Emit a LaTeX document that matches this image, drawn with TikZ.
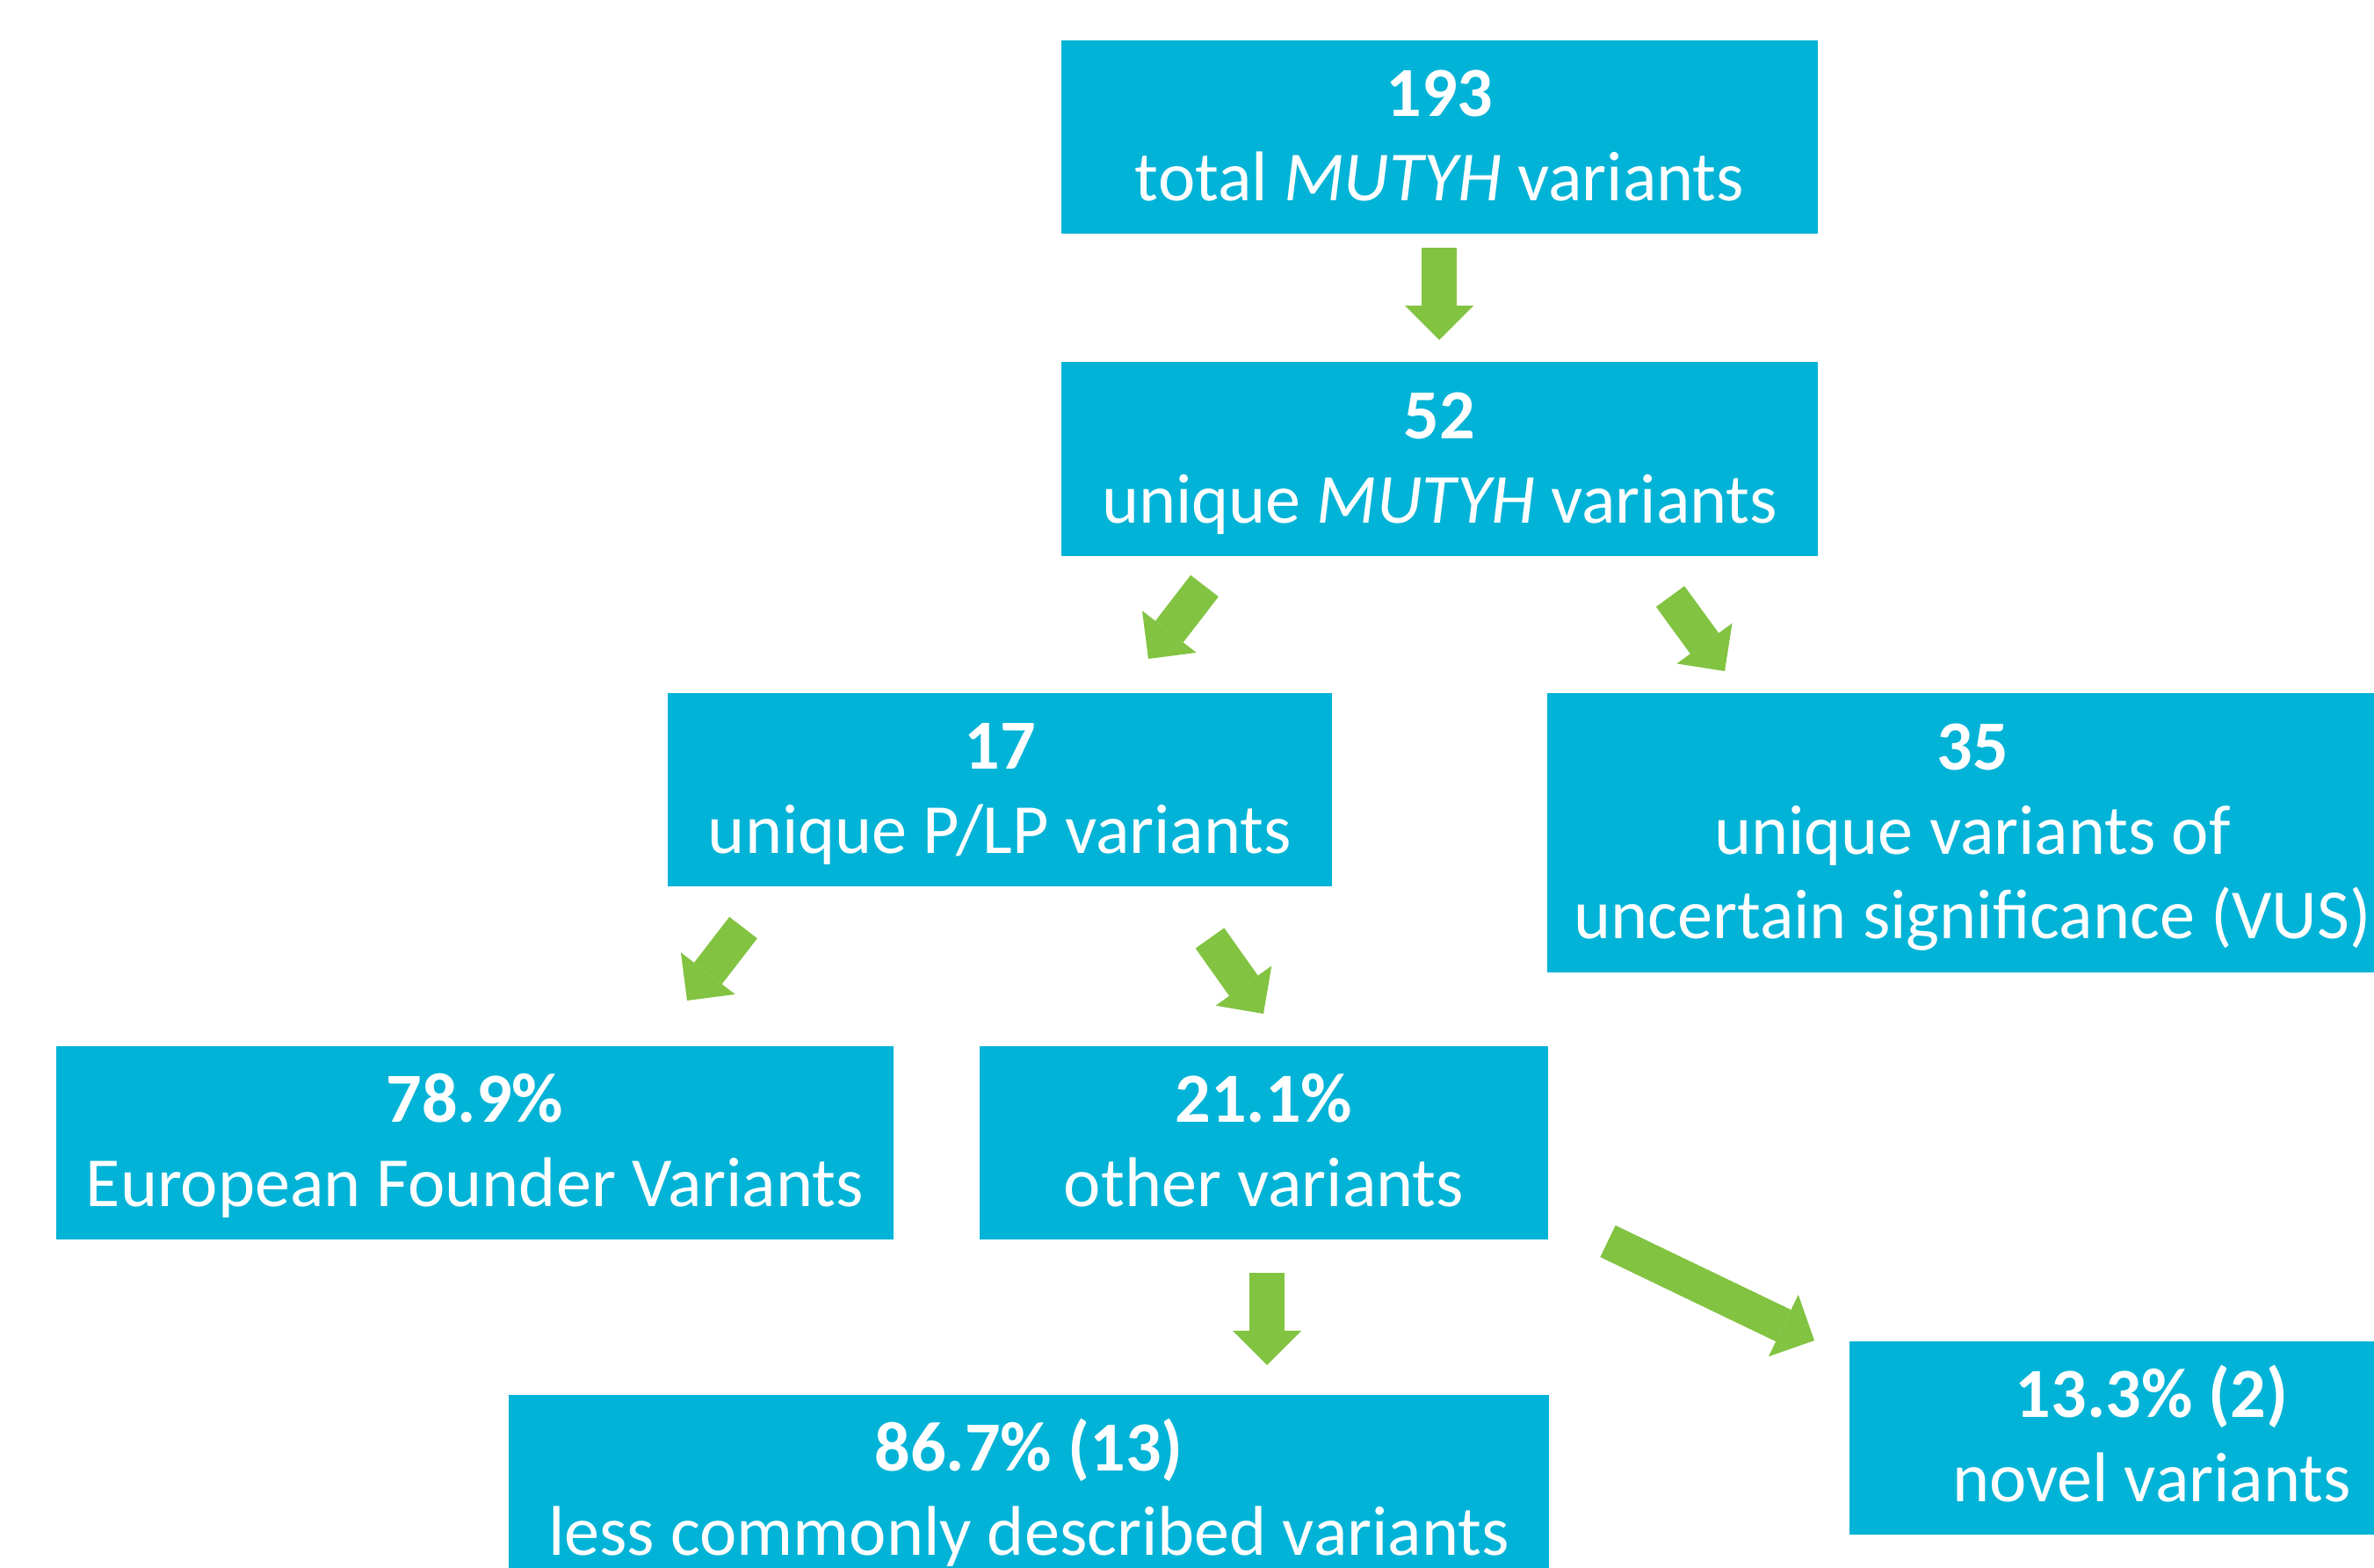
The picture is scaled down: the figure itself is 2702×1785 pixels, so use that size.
\documentclass[tikz,border=0pt]{standalone}
\usepackage{fontspec}
\setmainfont{Carlito}
\usetikzlibrary{arrows.meta}
\definecolor{boxblue}{HTML}{00B3D7}
\definecolor{arrowgreen}{HTML}{82C341}
\newcommand{\ls}{\rule[-0.24\baselineskip]{0pt}{\baselineskip}}
\tikzset{
	x=0.01cm, y=-0.01cm, % pixel-like units, y downwards
	box/.style={fill=boxblue, text=white, inner sep=0pt, align=center,
		minimum height=2.2cm, font=\fontsize{22.8}{27.3}\selectfont},
	flow/.style={draw=arrowgreen, line width=0.4cm,
		-{Triangle[width=0.78cm, length=0.39cm, line width=0pt]}},
}
\begin{document}
\begin{tikzpicture}
	\path[use as bounding box] (0,0) rectangle (2702,1785);
	\clip (0,0) rectangle (2702,1785);
	\fill[white] (0,0) rectangle (2702,1785);

	\node[box, minimum width=8.61cm] (total) at (1638.5,156)
		{\ls\textbf{193}\\ \ls total \textit{MUTYH} variants};
	\node[box, minimum width=8.61cm] (unique) at (1638.5,522.5)
		{\ls\textbf{52}\\ \ls unique \textit{MUTYH} variants};
	\node[box, minimum width=7.56cm] (plp) at (1138,899)
		{\ls\textbf{17}\\ \ls unique P/LP variants};
	\node[box, minimum width=9.68cm, minimum height=3.18cm] (vus) at (2245,948)
		{\ls\textbf{35}\\ \ls unique variants of\\ \ls uncertain significance (VUS)};
	\node[box, minimum width=9.52cm] (founder) at (540.5,1301)
		{\ls\textbf{78.9\%}\\ \ls European Founder Variants};
	\node[box, minimum width=6.46cm] (other) at (1438.5,1301)
		{\ls\textbf{21.1\%}\\ \ls other variants};
	\node[box, minimum width=11.83cm] (rare) at (1171,1698)
		{\ls\textbf{86.7\% (13)}\\ \ls less commonly described variants};
	\node[box, minimum width=6.88cm] (novel) at (2449,1637)
		{\ls\textbf{13.3\% (2)}\\ \ls novel variants};

	% arrow ends
	\coordinate (a1) at (1638,282);   \coordinate (b1) at (1638,387);
	\coordinate (a2) at (1371,667);   \coordinate (b2) at (1307,750);
	\coordinate (a3) at (1901,679);   \coordinate (b3) at (1963,764);
	\coordinate (a4) at (846,1056);   \coordinate (b4) at (782,1139);
	\coordinate (a5) at (1377,1068);  \coordinate (b5) at (1438,1154);
	\coordinate (a6) at (1442,1449);  \coordinate (b6) at (1442,1554);
	\coordinate (a7) at (1830,1413);  \coordinate (b7) at (2065,1526);

	\draw[flow] (a1) -- (b1);
	\draw[flow] (a2) -- (b2);
	\draw[flow] (a3) -- (b3);
	\draw[flow] (a4) -- (b4);
	\draw[flow] (a5) -- (b5);
	\draw[flow] (a6) -- (b6);
	\draw[flow] (a7) -- (b7);
\end{tikzpicture}
\end{document}
